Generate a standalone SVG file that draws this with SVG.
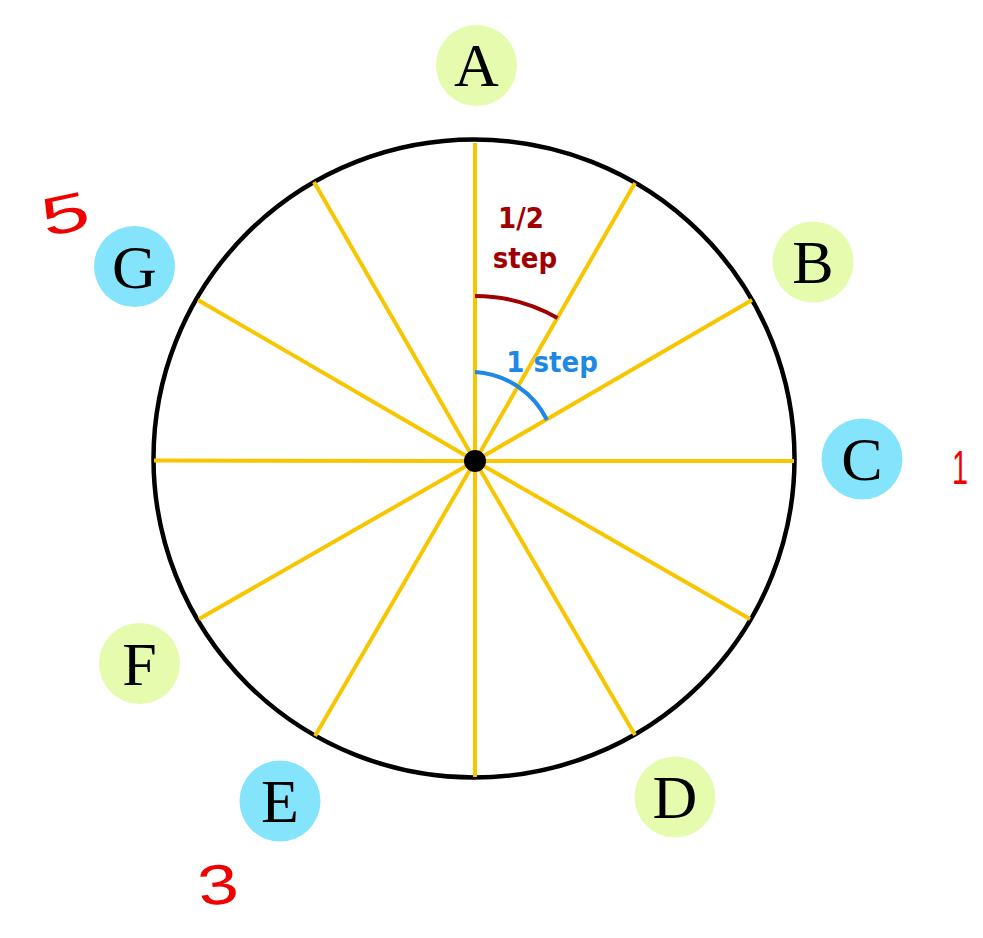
<svg xmlns="http://www.w3.org/2000/svg" width="983" height="938" viewBox="0 0 983 938">
<style>
.spoke{stroke:#F7C600;stroke-width:4;stroke-linecap:butt}
.g{fill:#E5FBAE}
.b{fill:#84E4FC}
.lbl{font-family:"Liberation Serif","Times New Roman",serif;font-size:62px;fill:#000;text-anchor:middle}
.note{font-family:"DejaVu Sans Condensed","DejaVu Sans",sans-serif;font-weight:bold;font-size:29px;text-anchor:middle}
.hand{font-family:"Liberation Sans",Arial,sans-serif;fill:#F00000}
</style>
<rect width="983" height="938" fill="#fff"/>
<g id="wheel">
<ellipse cx="474" cy="458.5" rx="320.5" ry="319" fill="none" stroke="#000" stroke-width="4.5"/>
</g>
<g id="connectors">
<line class="spoke" x1="475" y1="461" x2="475" y2="143"/>
<line class="spoke" x1="475" y1="461" x2="635" y2="183"/>
<line class="spoke" x1="475" y1="461" x2="752" y2="300"/>
<line class="spoke" x1="475" y1="461" x2="794" y2="461"/>
<line class="spoke" x1="475" y1="461" x2="750" y2="619"/>
<line class="spoke" x1="475" y1="461" x2="635" y2="735"/>
<line class="spoke" x1="475" y1="461" x2="475" y2="777"/>
<line class="spoke" x1="475" y1="461" x2="315" y2="736"/>
<line class="spoke" x1="475" y1="461" x2="199" y2="619"/>
<line class="spoke" x1="475" y1="461" x2="154" y2="460.5"/>
<line class="spoke" x1="475" y1="461" x2="198" y2="300"/>
<line class="spoke" x1="475" y1="461" x2="314" y2="182"/>
</g>
<g id="angles">
<path d="M475,296 A165,165 0 0 1 557.5,318" fill="none" stroke="#A00000" stroke-width="4"/>
<path d="M475,372 A86,86 0 0 1 547,420" fill="none" stroke="#1E88E5" stroke-width="4"/>
<text class="note" x="521" y="228" fill="#A00000">1/2</text>
<text class="note" x="525" y="268" fill="#A00000">step</text>
<text class="note" x="552" y="372" fill="#1E88E5">1 step</text>
</g>
<g id="center">
<circle cx="475" cy="461" r="11" fill="#000"/>
</g>
<g id="node-A"><circle class="g" cx="476.5" cy="65.5" r="40.5"/><text class="lbl" x="476.5" y="86">A</text></g>
<g id="node-B"><circle class="g" cx="813" cy="262" r="40.5"/><text class="lbl" x="813" y="283">B</text></g>
<g id="node-C"><circle class="b" cx="862" cy="459" r="40.5"/><text class="lbl" x="862" y="480">C</text></g>
<g id="node-D"><circle class="g" cx="675" cy="797" r="40.5"/><text class="lbl" x="675" y="818">D</text></g>
<g id="node-E"><circle class="b" cx="280" cy="801" r="40.5"/><text class="lbl" x="280" y="822">E</text></g>
<g id="node-F"><circle class="g" cx="139.5" cy="663.5" r="40.5"/><text class="lbl" x="139.5" y="684.5">F</text></g>
<g id="node-G"><circle class="b" cx="134.5" cy="266.5" r="40.5"/><text class="lbl" x="134.5" y="287.5">G</text></g>
<g id="annotations">
<text class="hand" font-size="54" transform="translate(69,232) rotate(-12) scale(1.6,1)" text-anchor="middle">5</text>
<text class="hand" font-size="56" transform="translate(220,904) rotate(-6) scale(1.3,1)" text-anchor="middle">3</text>
<text class="hand" font-size="48" transform="translate(960,484) scale(0.6,1)" text-anchor="middle">1</text>
</g>
</svg>
